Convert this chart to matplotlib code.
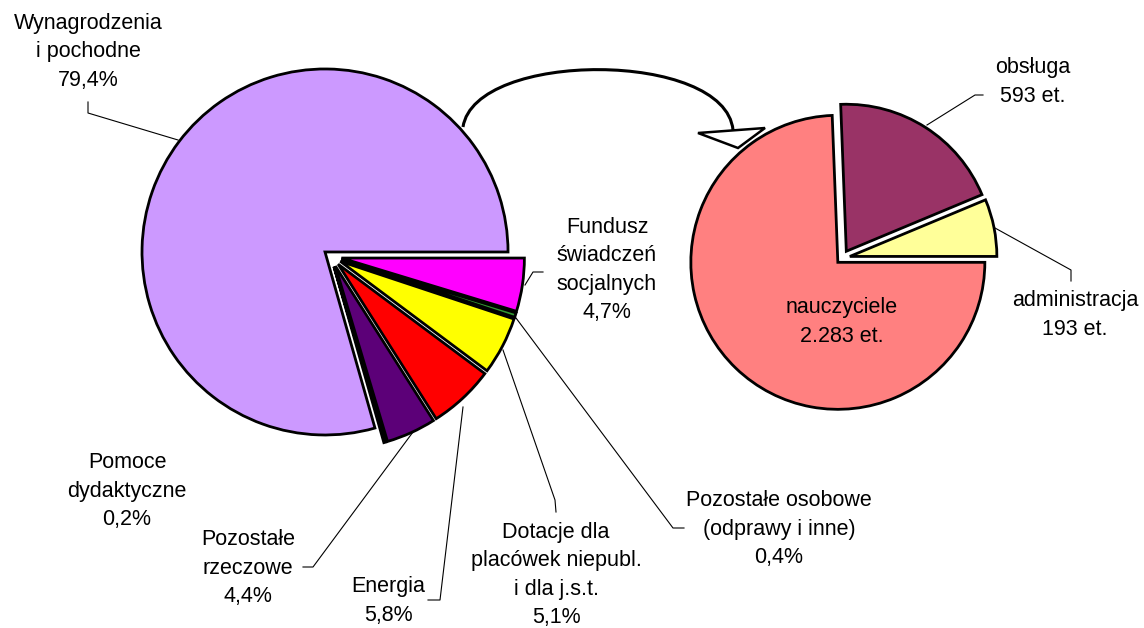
import matplotlib.pyplot as plt
from matplotlib.path import Path
from matplotlib.patches import PathPatch, Polygon

plt.rcParams['font.family'] = ['Liberation Sans', 'DejaVu Sans']

# struktura wydatków (%)
left_names = ['Fundusz\nświadczeń\nsocjalnych', 'Pozostałe osobowe\n(odprawy i inne)',
              'Dotacje dla\nplacówek niepubl.\ni dla j.s.t.', 'Energia',
              'Pozostałe\nrzeczowe', 'Pomoce\ndydaktyczne', 'Wynagrodzenia\ni pochodne']
left_shares = [4.7, 0.4, 5.1, 5.8, 4.4, 0.2, 79.4]
left_colors = ['#FF00FF', '#339933', '#FFFF00', '#FF0000', '#5C0078', '#000000', '#CC99FF']

# etaty
right_names = ['administracja', 'obsługa', 'nauczyciele']
right_counts = [193, 593, 2283]
right_colors = ['#FFFF99', '#993366', '#FF8080']

W, H = 1144, 628
def Y(y):
    return H - y

fig = plt.figure(figsize=(W / 100, H / 100), dpi=100)
ax = fig.add_axes([0, 0, 1, 1])

wp = dict(edgecolor='black', linewidth=2)
ax.pie(left_shares, colors=left_colors, explode=[10.5] * 6 + [7.5],
       startangle=0, counterclock=False, center=(331, Y(256.5)), radius=183,
       wedgeprops=wp)
ax.pie(right_counts, colors=right_colors, explode=[8, 8, 6],
       startangle=0, counterclock=True, center=(842, Y(258)), radius=147,
       wedgeprops=wp)

fs = 15.5
def label(x, y, s):
    ax.text(x, Y(y), s, ha='center', va='center', fontsize=fs, linespacing=1.45)

def leader(pts):
    ax.plot([p[0] for p in pts], [Y(p[1]) for p in pts], color='black', lw=0.8)

def pct(v):
    return f'{v:.1f}'.replace('.', ',') + '%'

left_pos = [(607, 270), (779, 529), (556, 575), (388, 601), (248, 568), (127, 491), (88, 52)]
left_lines = [[(525, 285), (533, 272), (543, 272)],
              [(516, 318), (673, 528), (684, 528)],
              [(503, 350), (555, 500), (556, 512)],
              [(463, 407), (440, 600), (428, 600)],
              [(413, 432), (313, 567), (303, 567)],
              None,
              [(178, 140), (88, 113), (88, 102)]]
for name, v, pos, ln in zip(left_names, left_shares, left_pos, left_lines):
    label(pos[0], pos[1], name + '\n' + pct(v))
    if ln:
        leader(ln)

right_pos = [(1075, 315), (1033, 82), (842, 322)]
right_lines = [[(995, 228), (1071, 270), (1071, 281)],
               [(927, 125), (975, 95), (983, 95)],
               None]
for name, c, pos, ln in zip(right_names, right_counts, right_pos, right_lines):
    label(pos[0], pos[1], name + '\n' + f'{c:,}'.replace(',', '.') + ' et.')
    if ln:
        leader(ln)

# strzałka między wykresami
arc = Path([(463, Y(127)), (475, Y(50)), (725, Y(50)), (733, Y(130))],
           [Path.MOVETO, Path.CURVE4, Path.CURVE4, Path.CURVE4])
ax.add_patch(PathPatch(arc, fill=False, lw=2.2, edgecolor='black'))
ax.add_patch(Polygon([(698, Y(133)), (765, Y(128)), (738, Y(148))], closed=True,
                     facecolor='white', edgecolor='black', lw=1.8))

ax.set_xlim(0, W)
ax.set_ylim(0, H)
ax.set_aspect('equal')
ax.axis('off')

fig.savefig('out.png', dpi=100, facecolor='white')
